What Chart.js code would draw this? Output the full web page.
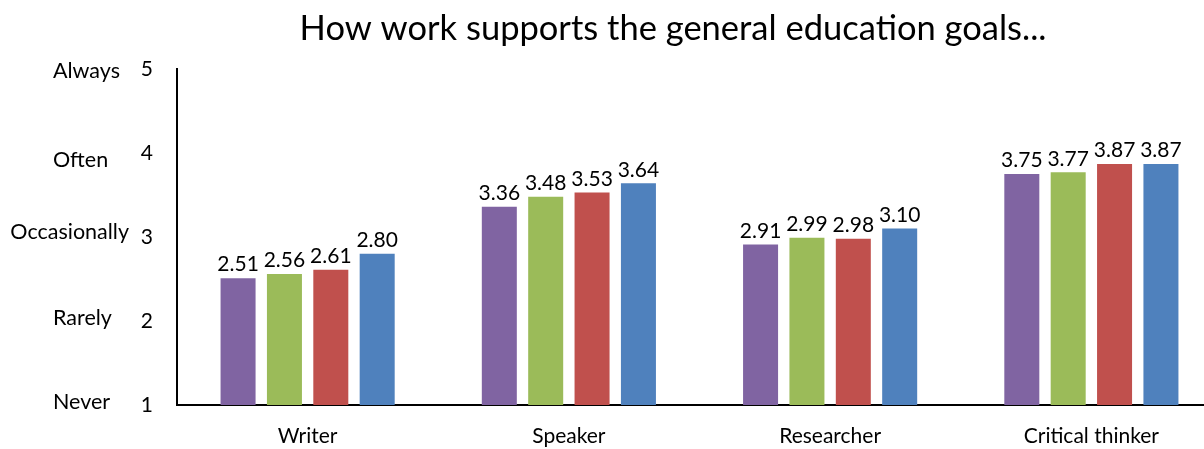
<!DOCTYPE html>
<html>
<head>
<meta charset="utf-8">
<script src="https://cdn.jsdelivr.net/npm/chart.js@4.4.0/dist/chart.umd.min.js"></script>
<style>
  html, body { margin: 0; padding: 0; background: #fff; overflow: hidden; }
  #wrap { width: 1222px; height: 449px; }
</style>
</head>
<body>
<div id="wrap"><canvas id="goalsChart"></canvas></div>
<script>
const categories = ["Writer", "Speaker", "Researcher", "Critical thinker"];
const seriesA = [2.51, 3.36, 2.91, 3.75];
const seriesB = [2.56, 3.48, 2.99, 3.77];
const seriesC = [2.61, 3.53, 2.98, 3.87];
const seriesD = [2.80, 3.64, 3.10, 3.87];
const ratingTicks = [1, 2, 3, 4, 5];
const ratingNames = ["Never", "Rarely", "Occasionally", "Often", "Always"];
const titleText = "How work supports the general education goals...";

const FONT = "Lato, 'Open Sans', sans-serif";

// value labels above each bar
const valueLabels = {
  id: "valueLabels",
  afterDatasetsDraw(chart) {
    const ctx = chart.ctx;
    ctx.save();
    ctx.font = "21px " + FONT;
    ctx.fillStyle = "#000";
    ctx.textAlign = "center";
    ctx.textBaseline = "bottom";
    chart.data.datasets.forEach((ds, i) => {
      chart.getDatasetMeta(i).data.forEach((bar, j) => {
        ctx.fillText(ds.data[j].toFixed(2), bar.x, bar.y - 3);
      });
    });
    ctx.restore();
  }
};

// title and the word scale beside the numeric ticks
const extraText = {
  id: "extraText",
  afterDraw(chart) {
    const ctx = chart.ctx;
    const y = chart.scales.y;
    // small vertical nudges so the words sit like the hand-placed text boxes
    const nudge = [-3, -3, -5, 7, 2];
    ctx.save();
    ctx.fillStyle = "#000";
    ctx.font = "34.5px " + FONT;
    ctx.textAlign = "center";
    ctx.textBaseline = "middle";
    ctx.fillText(titleText, 673, 29);
    ctx.font = "21.5px " + FONT;
    ctx.textAlign = "left";
    ratingTicks.forEach((v, i) => {
      const w = ctx.measureText(ratingNames[i]).width;
      const left = Math.min(53, 129 - w);
      ctx.fillText(ratingNames[i], left, y.getPixelForValue(v) + nudge[i]);
    });
    ctx.restore();
  }
};

new Chart(document.getElementById("goalsChart"), {
  type: "bar",
  data: {
    labels: categories,
    datasets: [
      { label: "A", data: seriesA, backgroundColor: "#8064A2" },
      { label: "B", data: seriesB, backgroundColor: "#9BBB59" },
      { label: "C", data: seriesC, backgroundColor: "#C0504D" },
      { label: "D", data: seriesD, backgroundColor: "#4F81BD" }
    ]
  },
  options: {
    responsive: true,
    maintainAspectRatio: false,
    animation: false,
    layout: { padding: { top: 69, right: 0, bottom: 0, left: 0 } },
    datasets: { bar: { categoryPercentage: 0.71, barPercentage: 0.755 } },
    plugins: {
      legend: { display: false },
      tooltip: { enabled: false },
      title: { display: false }
    },
    scales: {
      x: {
        grid: { display: false, drawTicks: false },
        border: { color: "#000", width: 2 },
        ticks: { color: "#000", font: { family: FONT, size: 21 }, padding: 19 },
        afterFit(scale) { scale.height = 44; }
      },
      y: {
        min: 1,
        max: 5,
        grid: { display: false, drawTicks: false },
        border: { color: "#000", width: 2 },
        ticks: { stepSize: 1, color: "#000", font: { family: FONT, size: 21 }, padding: 24 },
        afterFit(scale) { scale.width = 177; }
      }
    }
  },
  plugins: [valueLabels, extraText]
});
</script>
</body>
</html>
